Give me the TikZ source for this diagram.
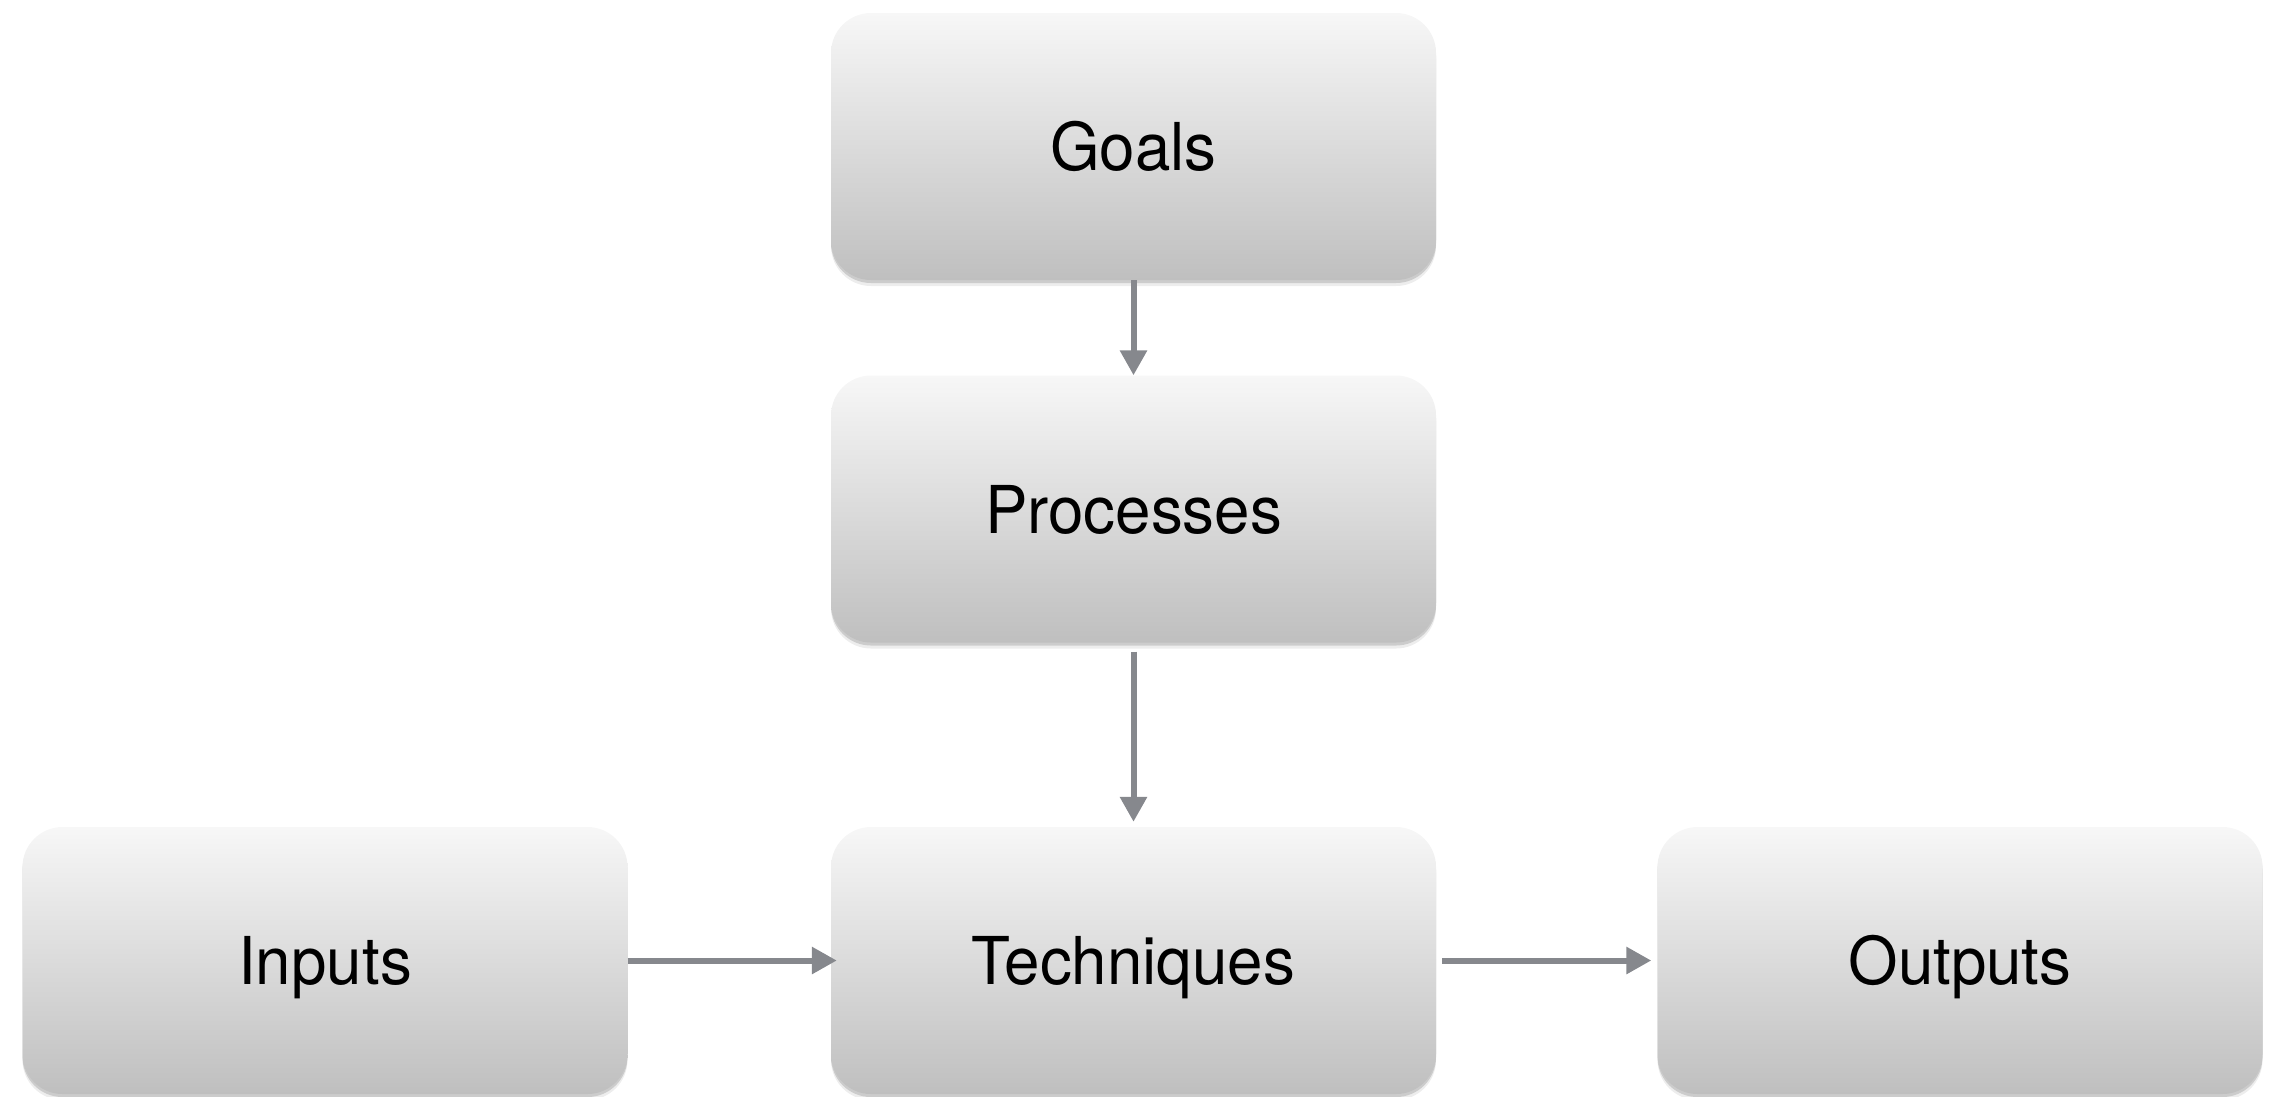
\documentclass[tikz,border=0pt]{standalone}
\usepackage{fontspec}
\setmainfont[FakeStretch=0.965]{TeX Gyre Heros}
\usetikzlibrary{arrows.meta,shadows}
\definecolor{arrowgray}{HTML}{86888D}
\definecolor{boxtop}{HTML}{F7F7F7}
\definecolor{boxbot}{HTML}{BFBFBF}
\tikzset{
  card/.style={rectangle, rounded corners=40pt, minimum width=605pt, minimum height=267pt,
    top color=boxtop, bottom color=boxbot, draw=none,
    drop shadow={shadow xshift=0pt, shadow yshift=-6pt, opacity=0.07, fill=black},
    drop shadow={shadow xshift=0pt, shadow yshift=-3pt, opacity=0.14, fill=black},
    font=\fontsize{66}{80}\selectfont, text height=48pt, text depth=0pt, inner sep=0pt},
  link/.style={draw=arrowgray, line width=6pt, -{Triangle[length=25pt,width=26pt]}}
}
\begin{document}
\begin{tikzpicture}[x=1pt,y=-1pt]
\useasboundingbox (0,0) rectangle (2274,1096);
\node[card] (goals) at (1133.5,146.5) {Goals};
\node[card] (proc) at (1133.5,509) {Processes};
\node[card] (tech) at (1133.5,960.5) {Techniques};
\node[card] (inp) at (325,960.5) {Inputs};
\node[card] (out) at (1960,960.5) {Outputs};
\draw[link] (goals.south) -- (proc.north);
\draw[link, shorten <=9pt, shorten >=5pt] (proc.south) -- (tech.north);
\draw[link, shorten >=-6pt] (inp.east) -- (tech.west);
\draw[link, shorten <=6pt, shorten >=6pt] (tech.east) -- (out.west);
\end{tikzpicture}
\end{document}
